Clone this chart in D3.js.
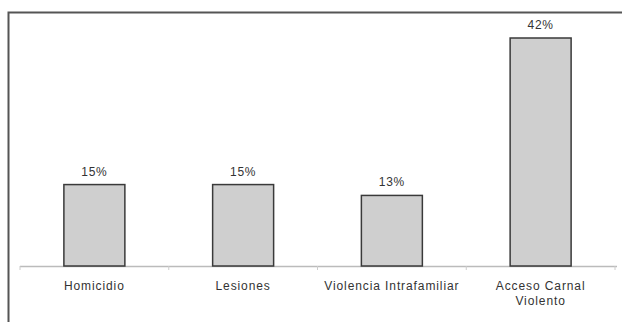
<!DOCTYPE html>
<html>
<head>
<meta charset="utf-8">
<script src="https://cdn.jsdelivr.net/npm/d3@7"></script>
<style>
  body { margin: 0; background: #fff; }
  text { font-family: "Liberation Sans", Arial, sans-serif; }
</style>
</head>
<body>
<div id="viz"></div>
<script>
var categories = [["Homicidio"], ["Lesiones"], ["Violencia Intrafamiliar"], ["Acceso Carnal", "Violento"]];
var values = [0.15, 0.15, 0.13, 0.42];
var valueLabels = ["15%", "15%", "13%", "42%"];

var W = 622, H = 322;
var svg = d3.select("#viz").append("svg")
  .attr("width", W)
  .attr("height", H);

// frame (only top and left edges show in the crop)
svg.append("path")
  .attr("d", "M8.5,322 L8.5,12.5 L622,12.5")
  .style("fill", "none")
  .style("stroke", "#555")
  .style("stroke-width", 2);

var x = d3.scaleBand()
  .domain(d3.range(categories.length))
  .range([20, 615])
  .paddingInner(0.59)
  .paddingOuter(0.295);

var y = d3.scaleLinear()
  .domain([0, 0.42])
  .range([266, 38]);

// baseline + tick marks at band boundaries
var x0 = x.range()[0], x1 = x.range()[1];
svg.append("line")
  .attr("x1", x0).attr("x2", x1 + 2)
  .attr("y1", y(0) + 0.5).attr("y2", y(0) + 0.5)
  .style("stroke", "#bbb")
  .style("stroke-width", 1.5);

svg.selectAll(".tick")
  .data(d3.range(categories.length + 1))
  .enter().append("line")
  .attr("x1", function(d) { return x0 + d * (x1 - x0) / categories.length; })
  .attr("x2", function(d) { return x0 + d * (x1 - x0) / categories.length; })
  .attr("y1", y(0)).attr("y2", y(0) + 4)
  .style("stroke", "#ccc");

svg.selectAll(".bar")
  .data(values)
  .enter().append("rect")
  .attr("class", "bar")
  .attr("x", function(d, i) { return x(i); })
  .attr("y", function(d) { return y(d); })
  .attr("width", x.bandwidth())
  .attr("height", function(d) { return y(0) - y(d); })
  .style("fill", "#cfcfcf")
  .style("stroke", "#3a3a3a")
  .style("stroke-width", 1.5);

svg.selectAll(".val")
  .data(values)
  .enter().append("text")
  .attr("x", function(d, i) { return x(i) + x.bandwidth() / 2; })
  .attr("y", function(d) { return y(d) - 9; })
  .attr("text-anchor", "middle")
  .style("font-size", "12px")
  .style("letter-spacing", "0.8px")
  .style("fill", "#333")
  .text(function(d, i) { return valueLabels[i]; });

var cat = svg.selectAll(".cat")
  .data(categories)
  .enter().append("text")
  .attr("text-anchor", "middle")
  .style("font-size", "12px")
  .style("letter-spacing", "0.9px")
  .style("fill", "#333");

cat.selectAll("tspan")
  .data(function(d, i) { return d.map(function(s) { return {s: s, i: i}; }); })
  .enter().append("tspan")
  .attr("x", function(d) { return x(d.i) + x.bandwidth() / 2; })
  .attr("y", function(d, j) { return 290 + j * 15; })
  .text(function(d) { return d.s; });
</script>
</body>
</html>
